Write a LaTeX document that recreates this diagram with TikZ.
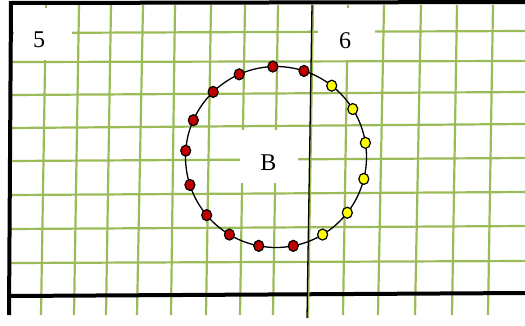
\documentclass[tikz,border=0pt]{standalone}
\usepackage{fontspec}
\setmainfont{Liberation Serif}
\usetikzlibrary{shapes.geometric}
\definecolor{gridgreen}{HTML}{9BBB59}
\definecolor{dotred}{HTML}{C00000}
\definecolor{dotyellow}{HTML}{FFFF00}

\begin{document}
\begin{tikzpicture}[x=1pt,y=-1pt,
  gridline/.style={draw=gridgreen, line width=2.2pt},
  frame/.style={draw=black, line width=4pt},
  divider/.style={draw=black, line width=1.3pt},
  zonelabel/.style={font=\fontsize{24}{24}\selectfont, inner sep=0pt},
  ring/.style={circle, draw=black, line width=1.3pt, minimum size=181pt,
               inner sep=0pt, outer sep=0pt},
  dot/.style={ellipse, draw=black, line width=1.2pt, minimum width=10pt,
              minimum height=11pt, inner sep=0pt},
  reddot/.style={dot, fill=dotred},
  yellowdot/.style={dot, fill=dotyellow}
]
  \useasboundingbox (0,0) rectangle (525,325);
  % grid
  \foreach \xt/\xb in {46/41,79/74,111/106,143/137,175/171,211/206,245/240,
                       278/273,348/343,384/378,421/415,457/452,493/488}
    \draw[gridline] (\xt,5) -- (\xb,315);
  \foreach \yl/\yr in {33/31,62/61,95/92,128/124,161/158,195/192,229/226,263/261}
    \draw[gridline] (10,\yl) -- (525,\yr);
  % white patches behind the labels
  \fill[white] (14,8) rectangle (72,60);
  \fill[white] (318,8) rectangle (375,60);
  \fill[white] (240,130) rectangle (298,183);
  \node[zonelabel] (lab5) at (39,40) {5};
  \node[zonelabel] (lab6) at (345,40.5) {6};
  \node[zonelabel] (labB) at (268.5,162.5) {B};
  % frame and divider
  \draw[frame] (9,3) -- (525,2);
  \draw[frame] (11,3) -- (9,315);
  \draw[frame] (9,296) -- (525,293);
  \draw[gridline] (313,5) -- (308,318);
  \draw[divider] (312,5) -- (307,318);
  % ring of dots
  \node[ring] (ring) at (276,157) {};
  \foreach \a/\c [count=\i] in {92/red,72/red,52.5/yellow,32/yellow,9.5/yellow,
      -14.5/yellow,-38/yellow,-59.6/yellow,-79/red,-101/red,-121/red,-140/red,
      -162/red,176/red,156/red,134/red,114/red}
    \node[\c dot] (d\i) at (ring.\a) {};
\end{tikzpicture}
\end{document}
